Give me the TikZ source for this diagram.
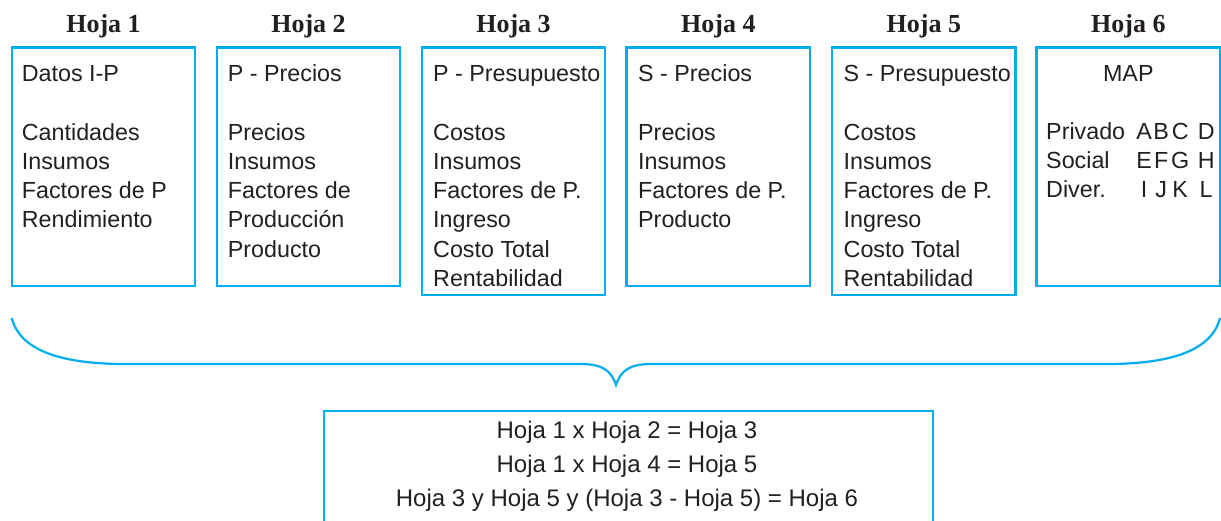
\documentclass[tikz,border=0pt]{standalone}
\usepackage{fontspec}
\setmainfont{Liberation Sans}
\newfontfamily\hdrfont{Liberation Serif}
\definecolor{cyanline}{RGB}{0,174,239}
\definecolor{inkc}{RGB}{35,31,32}
\tikzset{
  sheet/.style={draw=cyanline, line width=2.2pt, anchor=north west, inner sep=0pt, outer sep=0pt, minimum width=183.5pt},
  shortsheet/.style={sheet, minimum height=238.5pt},
  tallsheet/.style={sheet, minimum height=247.5pt},
  hdr/.style={anchor=base, inner sep=0pt, text=inkc, font=\hdrfont\bfseries\fontsize{26}{30}\selectfont},
  txt/.style={anchor=base west, inner sep=0pt, text=inkc, font=\fontsize{23.3}{28}\selectfont},
  eqn/.style={anchor=base, inner sep=0pt, text=inkc, font=\fontsize{24}{28}\selectfont},
  bracestyle/.style={draw=cyanline, line width=2.2pt},
}
\newcommand\sheetlines[3]{%
  \foreach \t [count=\i from 2] in {#3} {\node[txt] (#1-\i) at (#2, {82+29.2*\i}) {\t};}%
}
\begin{document}
\begin{tikzpicture}[x=1pt, y=-1pt]
\useasboundingbox (0,0) rectangle (1221,521);
% sheets
\node[shortsheet] (h1) at (11.7,47.5) {};
\node[shortsheet] (h2) at (216.7,47.5) {};
\node[tallsheet]  (h3) at (421.7,47.5) {};
\node[shortsheet] (h4) at (626.5,47.5) {};
\node[tallsheet]  (h5) at (832.0,47.5) {};
\node[shortsheet] (h6) at (1036.5,47.5) {};
% headers
\node[hdr] (t1) at (103.5,32.5) {Hoja 1};
\node[hdr] (t2) at (308.5,32.5) {Hoja 2};
\node[hdr] (t3) at (513.5,32.5) {Hoja 3};
\node[hdr] (t4) at (718.3,32.5) {Hoja 4};
\node[hdr] (t5) at (923.8,32.5) {Hoja 5};
\node[hdr] (t6) at (1128.3,32.5) {Hoja 6};
% sheet 1
\node[txt] (a0) at (21.7,82) {Datos I-P};
\sheetlines{a}{21.7}{Cantidades,Insumos,Factores de P,Rendimiento}
% sheet 2
\node[txt] (b0) at (227.7,82) {P - Precios};
\sheetlines{b}{227.7}{Precios,Insumos,Factores de,Producción,Producto}
% sheet 3
\node[txt] (c0) at (433,82) {P - Presupuesto};
\sheetlines{c}{433}{Costos,Insumos,Factores de P.,Ingreso,Costo Total,Rentabilidad}
% sheet 4
\node[txt] (d0) at (638,82) {S - Precios};
\sheetlines{d}{638}{Precios,Insumos,Factores de P.,Producto}
% sheet 5
\node[txt] (e0) at (843.5,82) {S - Presupuesto};
\sheetlines{e}{843.5}{Costos,Insumos,Factores de P.,Ingreso,Costo Total,Rentabilidad}
% sheet 6
\node[txt, anchor=base] (f0) at (1128.3,82) {MAP};
\node[txt] (f1) at (1046,139.3) {Privado};
\node[txt] (f2) at (1046,168.5) {Social};
\node[txt] (f3) at (1046,197.7) {Diver.};
\node[txt] (g1) at (1136,139.3) {\makebox[16pt]{A}\makebox[18pt]{B}\makebox[20pt]{C}\makebox[32pt]{D}};
\node[txt] (g2) at (1136,168.5) {\makebox[16pt]{E}\makebox[18pt]{F}\makebox[20pt]{G}\makebox[32pt]{H}};
\node[txt] (g3) at (1136,197.7) {\makebox[16pt]{I}\makebox[18pt]{J}\makebox[20pt]{K}\makebox[32pt]{L}};
% brace
\coordinate (bl) at (11.7,318);
\coordinate (br) at (1220,318);
\coordinate (tip) at (616,385);
\draw[bracestyle] (bl) .. controls (20,350) and (60,364) .. (125,364)
  -- (580,364) .. controls (602,364) and (611,370) .. (tip)
  .. controls (621,370) and (630,364) .. (652,364)
  -- (1107,364) .. controls (1172,364) and (1212,350) .. (br);
% result box
\node[draw=cyanline, line width=2.2pt, anchor=north west, inner sep=0pt, minimum width=609pt, minimum height=140pt] (res) at (322.7,410) {};
\node[eqn] (r1) at (627,438.5) {Hoja 1 x Hoja 2 = Hoja 3};
\node[eqn] (r2) at (627,472) {Hoja 1 x Hoja 4 = Hoja 5};
\node[eqn] (r3) at (627,506) {Hoja 3 y Hoja 5 y (Hoja 3 - Hoja 5) = Hoja 6};
\end{tikzpicture}
\end{document}
